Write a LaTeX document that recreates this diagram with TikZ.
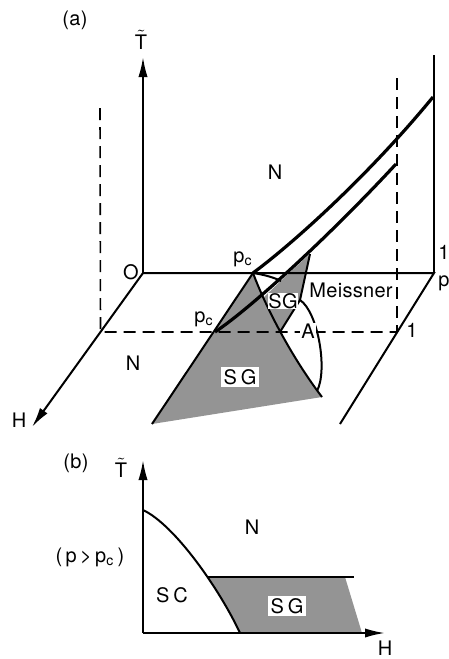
\documentclass[tikz,border=0pt]{standalone}
\usepackage{amsmath}
\usepackage{fontspec}
\setmainfont{TeX Gyre Heros}[LetterSpace=1.5]
\usetikzlibrary{arrows.meta}

\begin{document}
\begin{tikzpicture}[x=0.5pt,y=-0.5pt,line width=1pt,>={Latex[length=10pt,width=4.6pt]},
  font=\fontsize{10}{11}\selectfont,
  dashline/.style={line width=0.8pt,dash pattern=on 6pt off 3.5pt},
  bound/.style={line width=1.6pt},
  shade/.style={fill=black!42},
  boxlbl/.style={fill=white,inner sep=1.2pt}]
  \useasboundingbox (0,0) rectangle (449,659);

  % ---------- (a) ----------
  \coordinate (O) at (143,273);
  \coordinate (H1) at (100.5,332);
  \coordinate (pcT) at (253,273);
  \coordinate (pcL) at (215,332);
  \coordinate (sgtop) at (310,254);
  \coordinate (sgmid) at (300,300);
  \coordinate (corner) at (434,273);
  % shaded SG sheets
  \fill[shade] (pcT) .. controls (265,305) and (290,355) .. (322,397) -- (152,424) -- cycle;
  \fill[shade] (264,297) -- (287,275) -- (sgtop) -- (sgmid) -- (280,332) -- cycle;
  % dashed box
  \draw[dashline] (100,108) -- (H1) -- (397,332);
  \draw[dashline] (397,78) -- (397,332);
  % axes
  \draw[->] (O) -- (143,57);
  \draw[->] (O) -- (32,427);
  \draw (O) -- (corner) -- (340,424);
  \draw (434,55) -- (corner);
  % phase boundaries
  \draw[bound] (pcT) .. controls (300,238) and (375,168) .. (433,97);
  \draw[bound] (pcL) .. controls (255,305) and (335,230) .. (396,164);
  \draw (pcT) -- (152,424);
  \draw (pcT) .. controls (265,305) and (290,355) .. (322,397);
  \draw (pcT) .. controls (266,275) and (275,278) .. (281,281);
  \draw (sgtop) -- (sgmid) -- (280,332);
  \draw (sgmid) .. controls (318,312) and (328,370) .. (317,391);
  % labels
  \node (la) at (75,20) {(a)};
  \node (Ta) at (141,40) {$\tilde{\text{T}}$};
  \node (Nup) at (275,172) {N};
  \node (lO) at (131,272) {O};
  \node (pc1) at (243,259) {p\textsubscript{c}};
  \node (pc2) at (204,319) {p\textsubscript{c}};
  \node[boxlbl,inner sep=0.3pt] (sg1) at (283,301) {SG};
  \node (meis) at (351,290) {Meissner};
  \node[boxlbl,inner sep=0.6pt] (lA) at (308,331) {A};
  \node (one1) at (412,330) {1};
  \node (one2) at (444,252) {1};
  \node (lp) at (444,283) {p};
  \node (Nlow) at (133,363) {N};
  \node[boxlbl] (sg2) at (240,377) {S\kern2pt G};
  \node (Ha) at (19,420) {H};

  % ---------- (b) ----------
  \coordinate (Ob) at (143,633);
  \begin{scope}
    \clip (143,510) .. controls (175,525) and (220,590) .. (240,633) -- (400,633) -- (400,500) -- cycle;
    \fill[shade] (200,577) -- (345,577) -- (362,633) -- (200,633) -- cycle;
  \end{scope}
  % axes
  \draw[->] (Ob) -- (143,460);
  \draw[->] (Ob) -- (385,633);
  % boundaries
  \draw (143,510) .. controls (175,525) and (220,590) .. (240,633);
  \draw[line width=1.3pt] (208,577) -- (354,577);
  % labels
  \node (lb) at (76,463) {(b)};
  \node (Tb) at (121,468) {$\tilde{\text{T}}$};
  \node (Nb) at (252,527) {N};
  \node (cond) at (90,557) {(\,p\,>\,p\textsubscript{c}\,)};
  \node (sc) at (172,595) {S\kern2pt C};
  \node[boxlbl] (sgb) at (287,606) {S\kern2pt G};
  \node (Hb) at (385,648) {H};
\end{tikzpicture}
\end{document}
